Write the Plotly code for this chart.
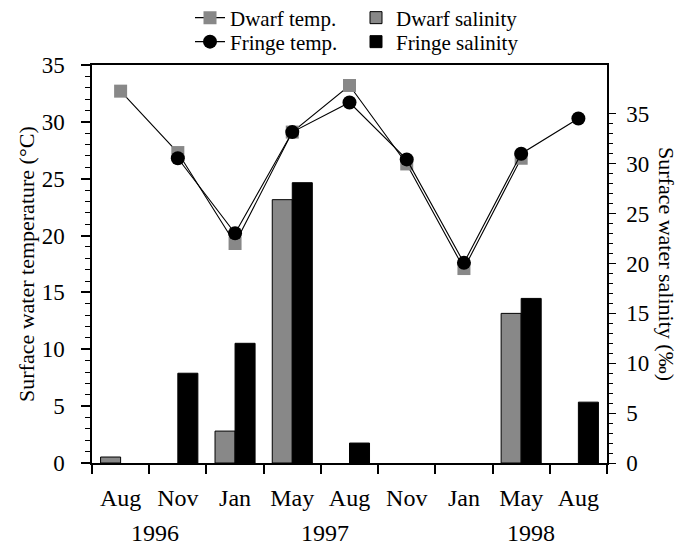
import plotly.graph_objects as go

months = ["Aug", "Nov", "Jan", "May", "Aug", "Nov", "Jan", "May", "Aug"]
years = ["1996", "1997", "1998"]
year_pos = [0.6, 3.57, 7.18]
xpos = list(range(len(months)))

dwarf_temp = [32.7, 27.3, 19.3, 29.1, 33.2, 26.3, 17.1, 26.8, None]
fringe_temp = [None, 26.8, 20.2, 29.1, 31.7, 26.7, 17.6, 27.2, 30.3]
dwarf_sal = [0.6, None, 3.2, 26.4, None, None, None, 15.0, None]
fringe_sal = [None, 9.0, 12.0, 28.1, 2.0, None, None, 16.5, 6.1]

FONT = "Liberation Serif"
GREY = "#888888"
W, H = 682, 548

fig = go.Figure()
fig.add_trace(go.Bar(x=xpos, y=dwarf_sal, name="Dwarf salinity", yaxis="y",
                     marker=dict(color=GREY, line=dict(color="black", width=1)),
                     legend="legend3"))
fig.add_trace(go.Bar(x=xpos, y=fringe_sal, name="Fringe salinity", yaxis="y",
                     marker=dict(color="black", line=dict(color="black", width=1)),
                     legend="legend4"))
fig.add_trace(go.Scatter(x=xpos, y=dwarf_temp, name="Dwarf temp.", yaxis="y2",
                         mode="lines+markers", line=dict(color="black", width=1.1),
                         marker=dict(symbol="square", size=13, color=GREY),
                         legend="legend"))
fig.add_trace(go.Scatter(x=xpos, y=fringe_temp, name="Fringe temp.", yaxis="y2",
                         mode="lines+markers", line=dict(color="black", width=1.1),
                         marker=dict(symbol="circle", size=14, color="black"),
                         legend="legend2"))

annotations = []
for y, p in zip(years, year_pos):
    annotations.append(dict(text=y, x=p, xref="x", y=0, yref="paper",
                            yanchor="middle", yshift=-70, showarrow=False,
                            font=dict(family=FONT, size=24, color="black")))
annotations.append(dict(text="Surface water temperature (°C)", x=0, xref="paper",
                        xanchor="center", xshift=-66, y=0.5, yref="paper",
                        yanchor="middle", textangle=-90, showarrow=False,
                        font=dict(family=FONT, size=22, color="black")))
annotations.append(dict(text="Surface water salinity (‰)", x=1, xref="paper",
                        xanchor="center", xshift=60, y=0.5, yref="paper",
                        yanchor="middle", textangle=90, showarrow=False,
                        font=dict(family=FONT, size=22, color="black")))


def leg(px, py):
    return dict(x=px / W, xref="container", xanchor="left",
                y=1 - py / H, yref="container", yanchor="middle",
                font=dict(family=FONT, size=21, color="black"),
                bgcolor="rgba(0,0,0,0)", itemwidth=30, borderwidth=0)


fig.update_layout(
    width=W, height=H,
    margin=dict(l=92, r=75, t=65, b=85, autoexpand=False),
    paper_bgcolor="white", plot_bgcolor="white",
    font=dict(family=FONT, size=23, color="black"),
    barmode="group", bargap=0.3, bargroupgap=0,
    xaxis=dict(range=[-0.5, 8.5], tickvals=xpos, ticktext=months, ticks="",
               tickfont=dict(size=24), automargin=False,
               showline=True, linecolor="black", linewidth=1.5, mirror=True,
               showgrid=False, zeroline=False, ticklabelstandoff=12,
               minor=dict(tickvals=[i - 0.5 for i in range(10)], ticks="outside",
                          ticklen=9, tickcolor="black", tickwidth=1.5, showgrid=False)),
    yaxis=dict(side="right", range=[0, 39.9], tickvals=list(range(0, 36, 5)),
               automargin=False,
               ticks="outside", ticklen=7, tickwidth=1.2, tickcolor="black",
               showline=True, linecolor="black", linewidth=1.5,
               showgrid=False, zeroline=False, ticklabelstandoff=6,
               minor=dict(tickvals=list(range(0, 36)), ticks="outside", ticklen=4,
                          tickcolor="black", tickwidth=1, showgrid=False)),
    yaxis2=dict(side="left", overlaying="y", range=[0, 35], dtick=5,
                automargin=False,
                ticks="outside", ticklen=9, tickwidth=1.5, tickcolor="black",
                showline=True, linecolor="black", linewidth=1.5,
                showgrid=False, zeroline=False, ticklabelstandoff=12,
                minor=dict(dtick=1, ticks="outside", ticklen=5,
                           tickcolor="black", tickwidth=1, showgrid=False)),
    legend=leg(190, 18),
    legend2=leg(190, 42),
    legend3=leg(356, 18),
    legend4=leg(356, 42),
    annotations=annotations,
    showlegend=True,
)

fig.write_html("out.html")
